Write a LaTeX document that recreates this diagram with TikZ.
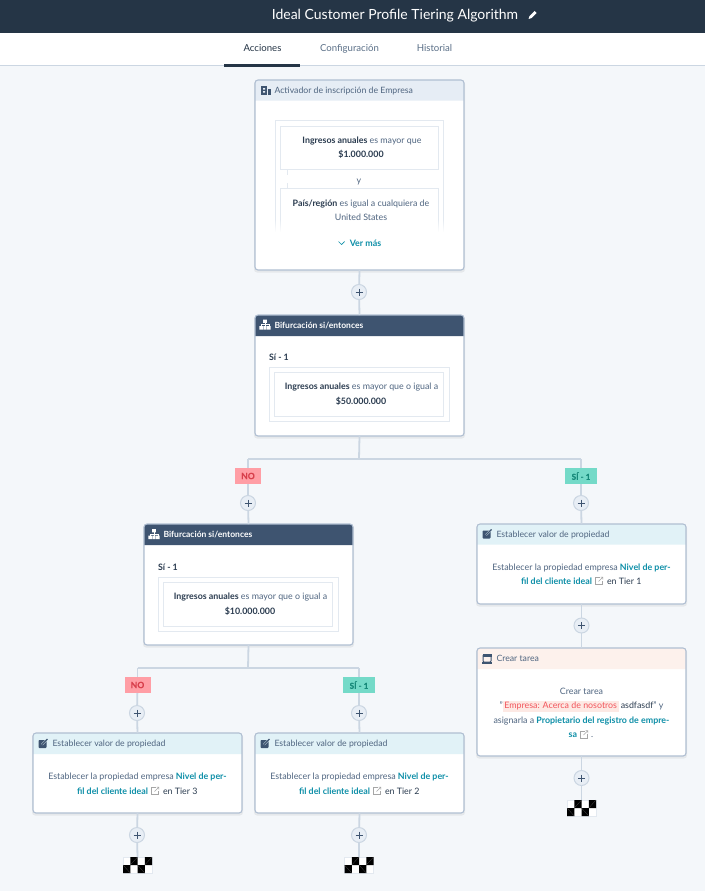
\documentclass[tikz,border=0pt]{standalone}
\usepackage{fontspec}
\setmainfont{Lato}
\newfontface\pillfont{Lato Bold}[FakeBold=0.5]
\usetikzlibrary{calc,fadings}
\definecolor{bgc}{HTML}{F4F7FA}
\definecolor{navy}{HTML}{253546}
\definecolor{headdark}{HTML}{3E5470}
\definecolor{headtrig}{HTML}{E6EDF5}
\definecolor{headset}{HTML}{E1F2F7}
\definecolor{headtask}{HTML}{FDF1EC}
\definecolor{cardedge}{HTML}{B0BFD2}
\definecolor{conn}{HTML}{CBD6E2}
\definecolor{boxedge}{HTML}{E3E9F0}
\definecolor{bodytxt}{HTML}{4F6580}
\definecolor{strongtxt}{HTML}{2A3B4F}
\definecolor{linktxt}{HTML}{0E8FA8}
\definecolor{tabtxt}{HTML}{5A6F87}
\definecolor{nofill}{HTML}{FF9EA5}
\definecolor{notxt}{HTML}{D8404C}
\definecolor{yesfill}{HTML}{74DAC8}
\definecolor{yestxt}{HTML}{178A7A}
\definecolor{hlfill}{HTML}{FDE9E4}
\definecolor{hltxt}{HTML}{F2545B}
\definecolor{plusfill}{HTML}{E8EEF5}
\tikzset{
  x=1pt,y=-1pt,
  every node/.style={inner sep=0pt,outer sep=0pt},
  body/.style={font=\fontsize{8.85}{10}\selectfont,text=bodytxt,text height=6.2pt,text depth=2pt,yshift=-1pt},
  bodybold/.style={font=\fontsize{8.85}{10}\selectfont\bfseries,text height=6.2pt,text depth=2pt,yshift=-1pt},
  headtitle/.style={font=\fontsize{8.7}{10}\selectfont,anchor=west,text height=6.2pt,text depth=2pt,yshift=-1pt},
  tabtitle/.style={font=\fontsize{9.6}{10}\selectfont,text=tabtxt,text height=6.5pt,text depth=2pt,yshift=-1pt},
  cardnode/.style={rectangle,fill=white,rounded corners=3pt,anchor=north west},
  cardborder/.style={draw=cardedge,line width=1.1pt,rounded corners=3pt},
  wire/.style={draw=conn,line width=1.8pt},
  thinbox/.style={rectangle,draw=boxedge,line width=1pt,fill=white,anchor=north west},
  plusbtn/.style={circle,draw=conn,line width=1pt,fill=plusfill,minimum size=15pt,
    path picture={\draw[headdark,line width=.7pt]
      ($(path picture bounding box.center)+(-3.5,0)$) -- ($(path picture bounding box.center)+(3.5,0)$)
      ($(path picture bounding box.center)+(0,-3.5)$) -- ($(path picture bounding box.center)+(0,3.5)$);}},
  pillno/.style={rectangle,fill=nofill,text=notxt,font=\fontsize{8.6}{10}\pillfont,minimum width=26pt,minimum height=16pt},
  pillyes/.style={rectangle,fill=yesfill,text=yestxt,font=\fontsize{8.2}{10}\pillfont,minimum width=32pt,minimum height=16pt},
  flagnode/.style={rectangle,fill=white,draw=boxedge,line width=.4pt,minimum width=29pt,minimum height=16pt},
}
\newcommand{\sg}[1]{\textcolor{strongtxt}{\bfseries #1}}
\newcommand{\lk}[1]{\textcolor{linktxt}{\bfseries #1}}
% name, x, y, w, h, header height, header colour, title colour, title
\newcommand{\cardbox}[9]{
  \fill[black,opacity=.06,rounded corners=3pt] (#2-1,#3+1) rectangle (#2+#4+1,#3+#5+2.5);
  \node[cardnode,minimum width=#4pt,minimum height=#5pt] (#1) at (#2,#3) {};
  \fill[#7] (#2,#3+#6) [rounded corners=3pt] -- (#2,#3) -- (#2+#4,#3) [sharp corners] -- (#2+#4,#3+#6) -- cycle;
  \draw[cardborder] (#1.north west) rectangle (#1.south east);
  \node[headtitle,text=#8] (#1title) at (#2+19.5,#3+#6/2) {#9};
}
% name, x, y: chequered end marker
\newcommand{\flagmark}[3]{
  \node[flagnode] (#1) at (#2,#3) {};
  \fill[black] (#2-7.25,#3-8) rectangle (#2,#3) (#2+7.25,#3-8) rectangle (#2+14.5,#3)
               (#2-14.5,#3) rectangle (#2-7.25,#3+8) (#2,#3) rectangle (#2+7.25,#3+8);
  \draw[gray!60!black,line width=.25pt] (#2-7.25,#3) -- (#2,#3-8) (#2+7.25,#3) -- (#2+14.5,#3-8)
       (#2-14.5,#3) -- (#2-7.25,#3+8) (#2,#3) -- (#2+7.25,#3+8);
}
% x, y: external-link icon
\newcommand{\extlink}[2]{
  \draw[gray!70,line width=.55pt] (#1+.5,#2-3.5) -- (#1-3.5,#2-3.5) -- (#1-3.5,#2+3.5) -- (#1+3.5,#2+3.5) -- (#1+3.5,#2-.5);
  \draw[gray!70,line width=.55pt] (#1-.5,#2+.5) -- (#1+3.7,#2-3.7) (#1+1.5,#2-3.9) -- (#1+3.9,#2-3.9) -- (#1+3.9,#2-1.5);
}
% x, y: edit icon
\newcommand{\editicon}[2]{
  \fill[headdark,rounded corners=.8pt] (#1-4.5,#2-3.5) rectangle (#1+3.5,#2+4.5);
  \draw[headset,line width=1.8pt] (#1-1,#2+1) -- (#1+5,#2-5);
  \draw[headdark,line width=1.1pt] (#1-1,#2+1) -- (#1+4.5,#2-4.5);
}
% x, y, colour: org-chart icon
\newcommand{\orgicon}[3]{
  \fill[#3] (#1-1.8,#2-5) rectangle (#1+1.8,#2-1.6) (#1-5.6,#2+1.6) rectangle (#1-2.2,#2+5)
            (#1-1.7,#2+1.6) rectangle (#1+1.7,#2+5) (#1+2.2,#2+1.6) rectangle (#1+5.6,#2+5);
  \draw[#3,line width=.6pt] (#1,#2-1.6) -- (#1,#2+1.6) (#1-3.9,#2+1.6) -- (#1-3.9,#2) -- (#1+3.9,#2) -- (#1+3.9,#2+1.6);
}
% name, centre x, first line y, second line y, tier
\newcommand{\setbody}[5]{
  \node[body] (#1a) at (#2,#3) {Establecer la propiedad empresa \lk{Nivel de per-}};
  \node[body,anchor=east] (#1b) at (#2+10.5,#4) {\lk{fil del cliente ideal}};
  \extlink{#2+17.5}{#4}
  \node[body,anchor=west] (#1c) at (#2+25.5,#4) {\textcolor{strongtxt}{en Tier #5}};
}
\begin{document}
\begin{tikzpicture}
\useasboundingbox (0,0) rectangle (705,891);
\fill[bgc] (0,0) rectangle (705,891);
% top bar
\fill[navy] (0,0) rectangle (705,33);
\fill[white] (0,33) rectangle (705,66);
\draw[conn,line width=1pt] (0,65.5) -- (705,65.5);
\fill[navy] (224,64) rectangle (300,67);
\node[text=white,font=\fontsize{14}{16}\selectfont,text height=10.5pt,text depth=3pt] (apptitle) at (395,16) {Ideal Customer Profile Tiering Algorithm};
\fill[white] (528.5,19) -- (529.5,16) -- (534.5,11) -- (536.5,13) -- (531.5,18) -- cycle;
\node[tabtitle,text=navy] (tabA) at (262.5,48.5) {Acciones};
\node[tabtitle] (tabB) at (349.5,48.5) {Configuración};
\node[tabtitle] (tabC) at (434.5,48.5) {Historial};

% cards
\cardbox{trig}{255}{80}{209}{190}{20.5}{headtrig}{bodytxt}{Activador de inscripción de Empresa}
\cardbox{brA}{255}{315}{209}{121}{21}{headdark}{white}{\fontsize{8.5}{10}\selectfont\bfseries Bifurcación si/entonces}
\cardbox{brB}{144}{524}{209}{121}{21}{headdark}{white}{\fontsize{8.5}{10}\selectfont\bfseries Bifurcación si/entonces}
\cardbox{setR}{477}{524}{209}{80}{20.5}{headset}{bodytxt}{Establecer valor de propiedad}
\cardbox{task}{477}{648}{209}{108}{21}{headtask}{bodytxt}{Crear tarea}
\cardbox{setL}{33}{733}{209}{80}{21}{headset}{bodytxt}{Establecer valor de propiedad}
\cardbox{setM}{255}{733}{209}{80}{21}{headset}{bodytxt}{Establecer valor de propiedad}

% header icons
\fill[headdark] (261,86) rectangle (267,94.5);
\fill[headdark] (268,89) rectangle (271,94.5);
\fill[headtrig] (263,88) rectangle (265,89.5) (263,91) rectangle (265,92.5);
\orgicon{265}{324.5}{white}
\orgicon{154}{534}{white}
\editicon{487}{534}
\editicon{43}{743.5}
\editicon{265}{743.5}
\draw[headdark,line width=1pt,rounded corners=1pt] (483,654.5) rectangle (491,662);
\fill[headdark] (482.5,654) rectangle (491.5,657);
\fill[headdark] (482,662) rectangle (492,663.5);

% trigger content
\node[thinbox,minimum width=168pt,minimum height=120pt] (trigouter) at (275,120.5) {};
\node[thinbox,minimum width=158pt,minimum height=43.5pt] (trigone) at (280,126) {};
\node[thinbox,minimum width=158pt,minimum height=60pt] (trigtwo) at (280,188) {};
\draw[boxedge,line width=.8pt] (287,170) -- (287,175) (287,183) -- (287,188);
\node[body] (trigl1) at (362,140) {\sg{Ingresos anuales} es mayor que};
\node[body] (trigl2) at (361,154) {\sg{\$1.000.000}};
\node[body] (trigy) at (359,180) {y};
\node[body] (trigl3) at (361,203) {\sg{País/región} es igual a cualquiera de};
\node[body] (trigl4) at (361,217) {United States};
\fill[white,path fading=north] (272,219) rectangle (447,232);
\fill[white] (271,231.5) rectangle (447,262);
\node[bodybold,text=linktxt] (more) at (365.5,243.5) {Ver más};
\draw[linktxt,line width=.7pt] (338.5,241.5) -- (341.5,244.5) -- (344.5,241.5);

% condition A
\node[bodybold,text=strongtxt,anchor=west] (siA) at (269,357) {Sí - 1};
\node[thinbox,minimum width=180pt,minimum height=54pt] (condAo) at (269,367) {};
\node[thinbox,minimum width=169pt,minimum height=44pt] (condAi) at (274,372) {};
\node[body] (condAa) at (361.5,386) {\sg{Ingresos anuales} es mayor que o igual a};
\node[body] (condAb) at (361,401) {\sg{\$50.000.000}};
% condition B
\node[bodybold,text=strongtxt,anchor=west] (siB) at (158,567) {Sí - 1};
\node[thinbox,minimum width=180pt,minimum height=54pt] (condBo) at (158,577) {};
\node[thinbox,minimum width=169pt,minimum height=44pt] (condBi) at (163,582) {};
\node[body] (condBa) at (250.5,596) {\sg{Ingresos anuales} es mayor que o igual a};
\node[body] (condBb) at (250,611) {\sg{\$10.000.000}};

% action bodies
\setbody{bR}{581.5}{567}{581}{1}
\setbody{bL}{137.5}{776}{791}{3}
\setbody{bM}{359.5}{776}{791}{2}

% task body
\node[body] (tk1) at (581.5,691) {Crear tarea};
\node[body] (tk2) at (581.5,705.5) {"\setlength{\fboxsep}{1.5pt}\colorbox{hlfill}{\textcolor{hltxt}{Empresa: Acerca de nosotros}} \textcolor{strongtxt}{asdfasdf}" y};
\node[body] (tk3) at (581.5,720) {asignarla a \lk{Propietario del registro de empre-}};
\node[body,anchor=east] (tk4) at (577,734.5) {\lk{sa}};
\extlink{584}{734.5}
\node[body,anchor=west] (tk5) at (591,734.5) {.};

% plus buttons
\node[plusbtn] (p1) at (359,292) {};
\node[plusbtn] (p2) at (248,503) {};
\node[plusbtn] (p3) at (581,503) {};
\node[plusbtn] (p4) at (581.5,625.5) {};
\node[plusbtn] (p5) at (581.5,778) {};
\node[plusbtn] (p6) at (137,713) {};
\node[plusbtn] (p7) at (359,713) {};
\node[plusbtn] (p8) at (137,835) {};
\node[plusbtn] (p9) at (359,835) {};

% labels
\node[pillno] (noA) at (248,476) {NO};
\node[pillyes] (yesA) at (581,476) {SÍ - 1};
\node[pillno] (noB) at (137.5,685) {NO};
\node[pillyes] (yesB) at (359,685) {SÍ - 1};

% end markers
\flagmark{endR}{581.5}{808}
\flagmark{endL}{137.5}{865}
\flagmark{endM}{359}{865}

% junctions
\coordinate (jA) at (359,459);
\coordinate (jAl) at (248,459);
\coordinate (jAr) at (581,459);
\coordinate (jB) at (248,668);
\coordinate (jBl) at (137.5,668);
\coordinate (jBr) at (359,668);

% connectors
\draw[wire] (trig.south) -- (p1);
\draw[wire] (p1) -- (brA.north);
\draw[wire] (brA.south) -- (jA);
\draw[wire] (jAl) -- (jAr);
\draw[wire] (jAl) -- (noA);
\draw[wire] (noA) -- (p2);
\draw[wire] (p2) -- (brB.north);
\draw[wire] (jAr) -- (yesA);
\draw[wire] (yesA) -- (p3);
\draw[wire] (p3) -- (setR.north);
\draw[wire] (setR.south) -- (p4);
\draw[wire] (p4) -- (task.north);
\draw[wire] (task.south) -- (p5);
\draw[wire] (p5) -- (endR.north);
\draw[wire] (brB.south) -- (jB);
\draw[wire] (jBl) -- (jBr);
\draw[wire] (jBl) -- (noB);
\draw[wire] (noB) -- (p6);
\draw[wire] (p6) -- (setL.north);
\draw[wire] (jBr) -- (yesB);
\draw[wire] (yesB) -- (p7);
\draw[wire] (p7) -- (setM.north);
\draw[wire] (setL.south) -- (p8);
\draw[wire] (p8) -- (endL.north);
\draw[wire] (setM.south) -- (p9);
\draw[wire] (p9) -- (endM.north);
\end{tikzpicture}
\end{document}
